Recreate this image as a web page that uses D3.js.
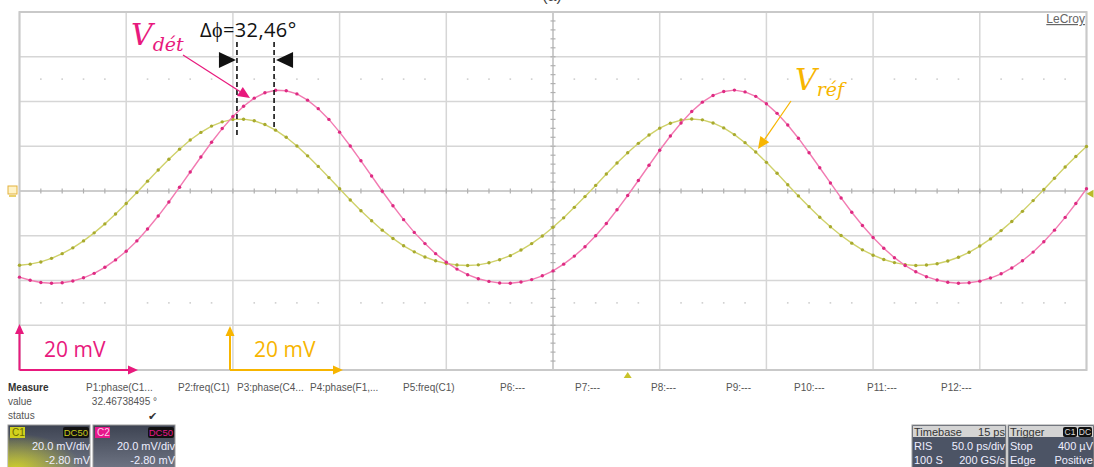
<!DOCTYPE html>
<html><head><meta charset="utf-8">
<script src="https://cdn.jsdelivr.net/npm/d3@7"></script>
<style>body{margin:0;background:#fff;overflow:hidden}svg{display:block}</style>
</head><body>
<svg id="c" width="1094" height="467"></svg>
<script>
const sampleStepPs = 5;            // 50 ps/div, 10 samples per division
const timeDivsPs = [0,50,100,150,200,250,300,350,400,450,500];
const voltDivsMv = [-80,-60,-40,-20,0,20,40,60,80];
const dottedLevelsMv = [50,-50];
// V_ref (channel C1, yellow), mV
const vRefMv = [-33.2,-32.7,-31.7,-30.1,-28.0,-25.4,-22.3,-18.7,-14.7,-10.3,
  -5.6,-0.7,4.4,9.4,14.2,18.7,22.8,26.2,29.0,30.9,
  32.0,32.1,31.4,29.7,27.2,24.0,20.1,15.7,11.0,6.0,
  1.0,-4.0,-8.8,-13.3,-17.5,-21.2,-24.5,-27.2,-29.5,-31.2,
  -32.4,-33.1,-33.3,-33.0,-32.1,-30.7,-28.9,-26.4,-23.5,-20.1,
  -16.2,-12.0,-7.3,-2.5,2.5,7.6,12.5,17.1,21.3,25.0,
  28.1,30.3,31.7,32.2,31.8,30.4,28.2,25.2,21.6,17.4,
  12.8,7.9,2.8,-2.2,-7.0,-11.7,-16.0,-19.9,-23.3,-26.3,
  -28.7,-30.6,-32.0,-32.9,-33.3,-33.1,-32.5,-31.3,-29.6,-27.4,
  -24.6,-21.4,-17.7,-13.6,-9.1,-4.3,0.7,5.7,10.7,15.4,19.9];
// V_det (channel C2, pink), mV
const vDetMv = [-38.5,-39.9,-40.9,-41.2,-41.0,-40.2,-38.8,-36.8,-34.1,-30.8,
  -26.9,-22.3,-17.0,-11.2,-4.9,1.7,8.5,15.2,21.8,27.9,
  33.3,37.9,41.5,43.9,45.0,44.8,43.4,40.6,36.8,32.0,
  26.3,20.1,13.5,6.7,-0.1,-6.6,-12.8,-18.5,-23.5,-28.0,
  -31.8,-34.9,-37.4,-39.2,-40.4,-41.1,-41.2,-40.7,-39.6,-37.9,
  -35.7,-32.7,-29.1,-24.9,-20.0,-14.5,-8.4,-2.0,4.7,11.5,
  18.2,24.6,30.4,35.5,39.7,42.7,44.5,45.1,44.3,42.3,
  39.0,34.7,29.5,23.6,17.1,10.4,3.6,-3.1,-9.5,-15.4,
  -20.8,-25.6,-29.8,-33.3,-36.1,-38.3,-39.8,-40.8,-41.2,-41.0,
  -40.3,-38.9,-37.0,-34.4,-31.2,-27.3,-22.7,-17.5,-11.8,-5.6,1.0];
const phaseMarkersPs = [101.9, 119.3];
const phaseLabel = "Δϕ=32,46°";
const measureLabels = [
  ["Measure",8],["P1:phase(C1...",86],["P2:freq(C1)",178],["P3:phase(C4...",237],
  ["P4:phase(F1,...",310],["P5:freq(C1)",403],["P6:---",500],["P7:---",575],
  ["P8:---",651],["P9:---",726],["P10:---",794],["P11:---",867],["P12:---",941]];

// ---------- drawing ----------
const svg = d3.select("#c");
const x = d3.scaleLinear().domain([0,500]).range([19.5,1086.5]);
const y = d3.scaleLinear().domain([-80,80]).range([370,12]);
const PINK = "#e8197d", GOLD = "#f7b500";

const g = svg.append("g");
// grid
g.selectAll("line.v").data(timeDivsPs).join("line")
  .attr("x1",d=>x(d)).attr("x2",d=>x(d)).attr("y1",y(80)).attr("y2",y(-80))
  .attr("stroke",d=>d===250?"#bdbdbd":"#d6d6d6").attr("stroke-width",1.5);
g.selectAll("line.h").data(voltDivsMv).join("line")
  .attr("y1",d=>y(d)).attr("y2",d=>y(d)).attr("x1",x(0)).attr("x2",x(500))
  .attr("stroke",d=>d===0?"#bdbdbd":"#d6d6d6").attr("stroke-width",1.5);
// border
g.append("rect").attr("x",x(0)).attr("y",y(80)).attr("width",x(500)-x(0)).attr("height",y(-80)-y(80))
  .attr("fill","none").attr("stroke","#c9c9c9").attr("stroke-width",2);
// dotted rows
dottedLevelsMv.forEach(lv=>{
  g.selectAll(null).data(d3.range(10,500,10).filter(t=>t%50!==0)).join("rect")
    .attr("x",t=>x(t)-0.8).attr("y",y(lv)-0.8).attr("width",1.6).attr("height",1.6).attr("fill","#cfcfcf");
});
// centre-axis minor ticks
g.selectAll(null).data(d3.range(10,500,10)).join("line")
  .attr("x1",t=>x(t)).attr("x2",t=>x(t)).attr("y1",y(0)-2.5).attr("y2",y(0)+2.5)
  .attr("stroke","#b0b0b0").attr("stroke-width",1.2);
g.selectAll(null).data(d3.range(-76,80,4)).join("line")
  .attr("y1",v=>y(v)).attr("y2",v=>y(v)).attr("x1",x(250)-2.5).attr("x2",x(250)+2.5)
  .attr("stroke","#b0b0b0").attr("stroke-width",1.2);

// waveforms
const line = d3.line().x((d,i)=>x(i*sampleStepPs)).y(d=>y(d));
function wave(data, lineCol, dotCol){
  g.append("path").datum(data).attr("d",line).attr("fill","none")
    .attr("stroke",lineCol).attr("stroke-width",1.4);
  g.append("g").selectAll("circle").data(data).join("circle")
    .attr("cx",(d,i)=>x(i*sampleStepPs)).attr("cy",d=>y(d)).attr("r",1.7).attr("fill",dotCol);
}
wave(vRefMv,"#cfd16a","#a8aa2e");
wave(vDetMv,"#f27bb2","#de2a82");

// markers on edges
svg.append("path").attr("d",`M${x(500)},${y(-1.2)} l7,-4 v8 z`).attr("fill","#b9bb2a");
svg.append("path").attr("d",`M${x(285)},372 l-4,6 h8 z`).attr("fill","#c9c32a");
svg.append("rect").attr("x",8).attr("y",y(0)-5).attr("width",9).attr("height",8)
  .attr("fill","#fff3c8").attr("stroke","#e3b23c").attr("stroke-width",1);
svg.append("line").attr("x1",9).attr("x2",16).attr("y1",y(0)+5).attr("y2",y(0)+5).attr("stroke","#e3c23c").attr("stroke-width",1.5);

// title remnant (cut by the top edge in the capture) and LeCroy logo
svg.append("text").attr("x",552).attr("y",1).attr("text-anchor","middle")
  .attr("font-family","Liberation Sans").attr("font-size",16).attr("fill","#444").text("(a)");
svg.append("text").attr("x",1085).attr("y",23).attr("text-anchor","end")
  .attr("font-family","Liberation Sans").attr("font-size",12).attr("fill","#666")
  .attr("text-decoration","underline").text("LeCroy");

// phase annotation
const ann = svg.append("g");
phaseMarkersPs.forEach((t,i)=>{
  ann.append("line").attr("x1",x(t)).attr("x2",x(t)).attr("y1",42).attr("y2",i===0?135:130)
    .attr("stroke","#111").attr("stroke-width",1.6).attr("stroke-dasharray","5,3");
});
ann.append("path").attr("d",`M${x(phaseMarkersPs[0])-1},60 l-17,-8 v16 z`).attr("fill","#111");
ann.append("path").attr("d",`M${x(phaseMarkersPs[1])+2},60 l17,-8 v16 z`).attr("fill","#111");
ann.append("text").attr("x",200).attr("y",37).attr("font-family","Open Sans")
  .attr("font-size",20).attr("letter-spacing",0.4).attr("fill","#111").text(phaseLabel);

// V labels
function vlabel(xp, yp, sub, col){
  const t = svg.append("text").attr("x",xp).attr("y",yp).attr("fill",col)
    .attr("font-family","DejaVu Serif").attr("font-style","italic");
  t.append("tspan").attr("font-size",30).text("V");
  t.append("tspan").attr("font-size",19).attr("dy",6).text(sub);
}
vlabel(131,45,"dét",PINK);
vlabel(795,90,"réf",GOLD);
function arrow(x1,y1,x2,y2,col,w,head){
  const a = Math.atan2(y2-y1,x2-x1), L=head||11, W=(head||11)*0.45;
  const bx = x2-L*Math.cos(a), by = y2-L*Math.sin(a);
  svg.append("line").attr("x1",x1).attr("y1",y1).attr("x2",bx).attr("y2",by)
    .attr("stroke",col).attr("stroke-width",w);
  svg.append("path").attr("d",`M${x2},${y2} L${bx+W*Math.sin(a)},${by-W*Math.cos(a)} L${bx-W*Math.sin(a)},${by+W*Math.cos(a)} Z`).attr("fill",col);
}
arrow(183,55,250,98,PINK,1.2,12);
arrow(791,101,758,149,GOLD,1.2,12);

// scale bars
arrow(19.5,370,19.5,324,PINK,2,10);
arrow(19.5,370,138,370,PINK,2,10);
svg.append("text").attr("x",44).attr("y",357).attr("font-family","Open Sans").attr("font-size",21).attr("fill",PINK).text("20 mV");
arrow(230,370,230,326,GOLD,2,10);
arrow(230,370,343,370,GOLD,2,10);
svg.append("text").attr("x",254).attr("y",357).attr("font-family","Open Sans").attr("font-size",21).attr("fill",GOLD).text("20 mV");

// measure table
const mt = svg.append("g").attr("font-family","Liberation Sans").attr("font-size",10).attr("fill","#555");
mt.selectAll("text").data(measureLabels).join("text")
  .attr("x",d=>d[1]).attr("y",391).text(d=>d[0])
  .attr("font-weight",d=>d[0]==="Measure"?"bold":null).attr("fill",d=>d[0]==="Measure"?"#333":"#555");
mt.append("text").attr("x",8).attr("y",405).text("value");
mt.append("text").attr("x",8).attr("y",419).text("status");
mt.append("text").attr("x",157).attr("y",405).attr("text-anchor","end").text("32.46738495 °");
mt.append("text").attr("x",157).attr("y",420).attr("text-anchor","end").attr("fill","#333").attr("font-size",11).text("✔");

// channel boxes
const defs = svg.append("defs");
const lg = defs.append("linearGradient").attr("id","chg").attr("x1",0).attr("y1",0).attr("x2",0).attr("y2",1);
lg.append("stop").attr("offset",0).attr("stop-color","#3d4352");
lg.append("stop").attr("offset",1).attr("stop-color","#6f7584");
const rg = defs.append("radialGradient").attr("id","yglow").attr("cx",0.1).attr("cy",1).attr("r",0.8);
rg.append("stop").attr("offset",0).attr("stop-color","#d8d820").attr("stop-opacity",0.9);
rg.append("stop").attr("offset",1).attr("stop-color","#d8d820").attr("stop-opacity",0);
function chBox(x0, lab, labBg, labFg, dcFg, glow){
  const b = svg.append("g").attr("font-family","Liberation Sans");
  b.append("rect").attr("x",x0).attr("y",425).attr("width",82).attr("height",44).attr("fill","url(#chg)").attr("stroke","#999");
  if(glow) b.append("rect").attr("x",x0).attr("y",425).attr("width",82).attr("height",44).attr("fill","url(#yglow)");
  b.append("rect").attr("x",x0+2).attr("y",427).attr("width",15).attr("height",11).attr("fill",labBg);
  b.append("text").attr("x",x0+4).attr("y",436).attr("font-size",10).attr("fill",labFg).text(lab);
  b.append("rect").attr("x",x0+55).attr("y",427).attr("width",26).attr("height",11).attr("rx",2).attr("fill","#111");
  b.append("text").attr("x",x0+80).attr("y",436).attr("text-anchor","end").attr("font-size",9.5).attr("fill",dcFg).text("DC50");
  b.append("text").attr("x",x0+82).attr("y",450).attr("text-anchor","end").attr("font-size",11).attr("fill","#eef").text("20.0 mV/div");
  b.append("text").attr("x",x0+82).attr("y",464).attr("text-anchor","end").attr("font-size",11).attr("fill","#eef").text("-2.80 mV");
}
chBox(8,"C1","#d2d21e","#6a6a00","#c8c81e",true);
chBox(93,"C2","#e6178a","#ffd0ea","#e6178a",false);

// timebase / trigger boxes
function infoBox(x0,w,head,headR,rows,badges){
  const b = svg.append("g").attr("font-family","Liberation Sans").attr("font-size",11);
  b.append("rect").attr("x",x0).attr("y",425).attr("width",w).attr("height",44).attr("fill","#4c5465").attr("stroke","#999");
  b.append("rect").attr("x",x0+1).attr("y",426).attr("width",w-2).attr("height",11).attr("fill","#d4d4d4");
  b.append("text").attr("x",x0+2).attr("y",435.5).attr("fill","#333").text(head);
  if(headR) b.append("text").attr("x",x0+w-1).attr("y",435.5).attr("text-anchor","end").attr("fill","#333").text(headR);
  if(badges){
    badges.forEach((s,i)=>{
      b.append("rect").attr("x",x0+w-31+i*15).attr("y",427).attr("width",14).attr("height",10).attr("rx",2).attr("fill","#111");
      b.append("text").attr("x",x0+w-24+i*15).attr("y",435).attr("text-anchor","middle").attr("font-size",8.5).attr("fill","#ddd").text(s);
    });
  }
  rows.forEach((r,i)=>{
    b.append("text").attr("x",x0+2).attr("y",450+i*14).attr("fill","#eef").text(r[0]);
    b.append("text").attr("x",x0+w-1).attr("y",450+i*14).attr("text-anchor","end").attr("fill","#eef").text(r[1]);
  });
}
infoBox(912,94,"Timebase","15 ps",[["RIS","50.0 ps/div"],["100 S","200 GS/s"]]);
infoBox(1008,86,"Trigger",null,[["Stop","400 µV"],["Edge","Positive"]],["C1","DC"]);
</script>
</body></html>
